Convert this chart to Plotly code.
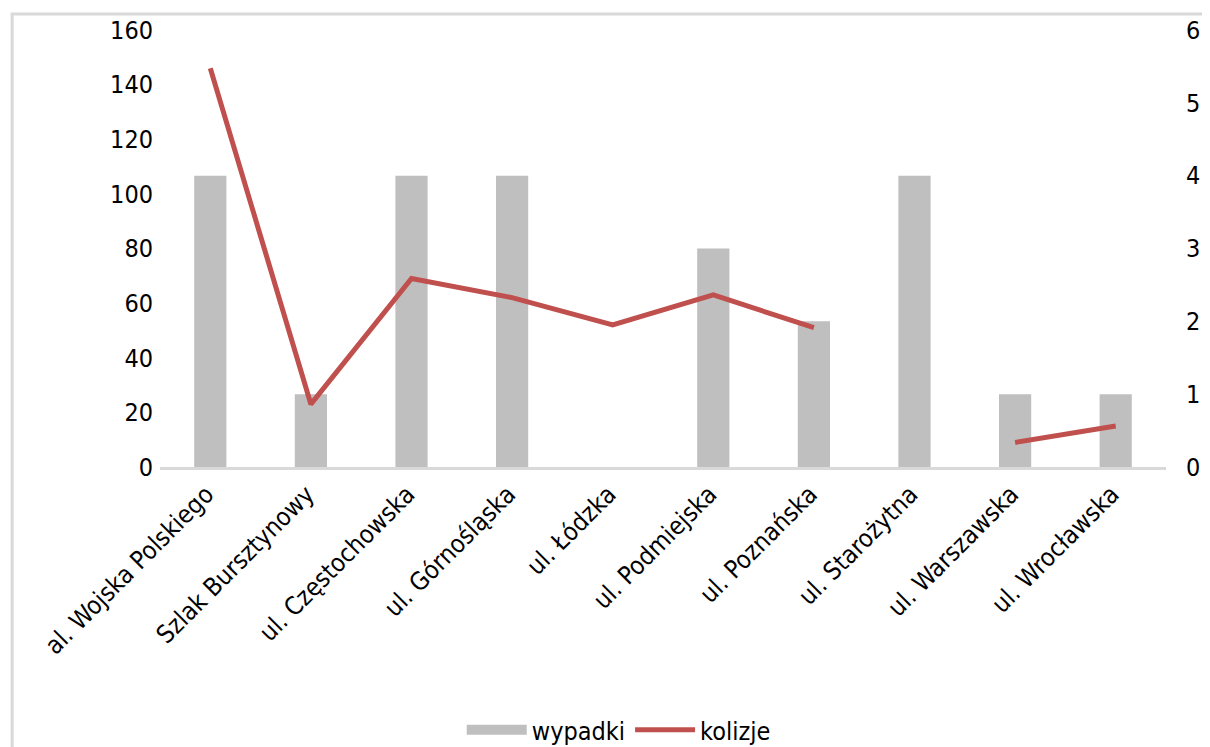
import plotly.graph_objects as go

# ulice
ulice = [
    "al. Wojska Polskiego", "Szlak Bursztynowy", "ul. Częstochowska",
    "ul. Górnośląska", "ul. Łódzka", "ul. Podmiejska", "ul. Poznańska",
    "ul. Starożytna", "ul. Warszawska", "ul. Wrocławska",
]
# wypadki (prawa oś)
wypadki = [4, 1, 4, 4, 0, 3, 2, 4, 1, 1]
# kolizje (lewa oś), brak danych dla ul. Starożytna
kolizje = [146, 23, 69, 62, 52, 63, 51, None, 9, 15]

lewa_ticks = [0, 20, 40, 60, 80, 100, 120, 140, 160]
prawa_ticks = [0, 1, 2, 3, 4, 5, 6]

FONT = "DejaVu Sans Condensed, DejaVu Sans, sans-serif"
SZARY = "#bfbfbf"
CZERWONY = "#c0504d"

fig = go.Figure()

# słupki na osi głównej (prawa strona), żeby linia była rysowana nad nimi
fig.add_trace(go.Bar(
    x=ulice, y=wypadki, name="wypadki", yaxis="y",
    marker=dict(color=SZARY, line=dict(width=0)), showlegend=False,
))
# wpis legendy dla słupków (szeroki prostokąt jak w Excelu)
fig.add_trace(go.Scatter(
    x=[None], y=[None], name="wypadki", mode="lines",
    line=dict(color=SZARY, width=15),
))
fig.add_trace(go.Scatter(
    x=ulice, y=kolizje, name="kolizje", mode="lines", yaxis="y2",
    line=dict(color=CZERWONY, width=5), connectgaps=False,
))

# strona ma 8px marginesu body, więc wszystko przesunięte o 8px
fig.update_layout(
    width=1202, height=760,
    margin=dict(l=152, r=44, t=22, b=301),
    paper_bgcolor="white", plot_bgcolor="white",
    font=dict(family=FONT, size=25, color="black"),
    bargap=0.68,
    legend=dict(
        orientation="h", x=0.456, xanchor="center", y=-0.602, yanchor="middle",
        font=dict(size=25), itemwidth=60, tracegroupgap=0,
    ),
    xaxis=dict(
        tickangle=-45, showgrid=False, showline=True, linecolor="#d9d9d9",
        linewidth=2.5, ticks="", automargin=False, ticklabelshift=-4,
    ),
    yaxis=dict(
        range=[0, 6], tickvals=prawa_ticks, side="right",
        showgrid=False, zeroline=False, automargin=False,
        ticks="outside", ticklen=14, tickcolor="rgba(0,0,0,0)",
    ),
    yaxis2=dict(
        range=[0, 160], tickvals=lewa_ticks, overlaying="y", side="left",
        showgrid=False, zeroline=False, automargin=False,
        ticks="outside", ticklen=1, tickcolor="rgba(0,0,0,0)",
    ),
    shapes=[dict(
        type="rect", xref="paper", yref="paper",
        x0=-0.147, x1=1.06, y0=-0.7, y1=1.0366,
        line=dict(color="#d9d9d9", width=3), layer="below",
    )],
)

fig.write_html("out.html")
